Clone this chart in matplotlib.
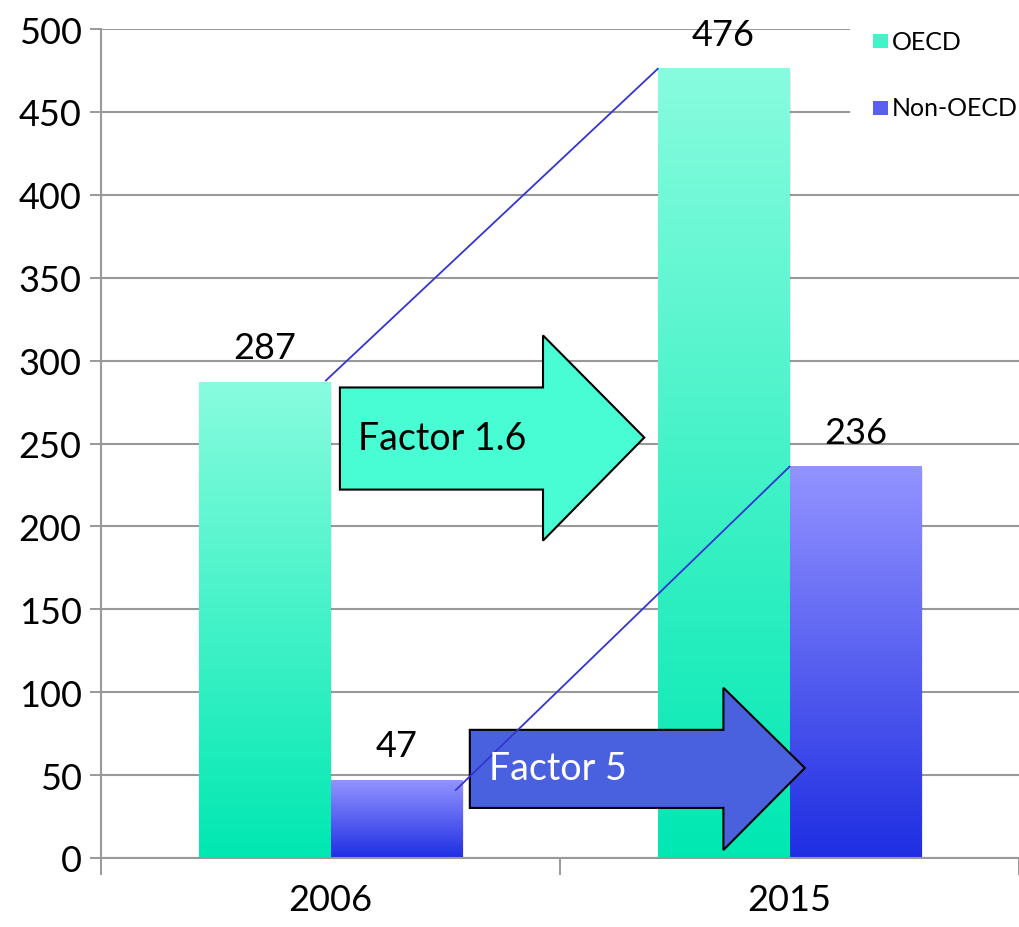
import numpy as np
import matplotlib.pyplot as plt
from matplotlib.patches import Polygon, Rectangle
from matplotlib.colors import LinearSegmentedColormap

plt.rcParams['font.family'] = ['Lato', 'DejaVu Sans']

years = ['2006', '2015']
oecd = [287, 476]
non_oecd = [47, 236]
series_names = ['OECD', 'Non-OECD']

oecd_cmap = LinearSegmentedColormap.from_list('oecd', ['#00E8B2', '#88FCDE'])
non_cmap = LinearSegmentedColormap.from_list('non', ['#1E2EE2', '#9393FF'])

fig = plt.figure(figsize=(10.19, 9.28), dpi=100)
ax = fig.add_axes([101 / 1019, 69 / 928, 918 / 1019, 829 / 928])

x = np.arange(len(years))
w = 0.287


def gradient_bars(xs, vals, cmap):
    bars = ax.bar(xs, vals, w, color='none', edgecolor='none', zorder=2)
    grad = np.linspace(0, 1, 256).reshape(-1, 1)
    for b in bars:
        x0, y0 = b.get_x(), b.get_y()
        h = b.get_height()
        # faint shadow
        ax.add_patch(Rectangle((x0 + 0.004, y0), b.get_width(), h - 1.5,
                               facecolor='#000000', alpha=0.08, zorder=1.5, lw=0))
        ax.imshow(grad, cmap=cmap, origin='lower', aspect='auto',
                  extent=(x0, x0 + b.get_width(), y0, y0 + h), zorder=2)
    return bars


b1 = gradient_bars(x - w / 2, oecd, oecd_cmap)
b2 = gradient_bars(x + w / 2, non_oecd, non_cmap)

for bars, vals in [(b1, oecd), (b2, non_oecd)]:
    for b, v in zip(bars, vals):
        ax.annotate(str(v), (b.get_x() + b.get_width() / 2, v), xytext=(0, 13),
                    textcoords='offset points', ha='center', va='bottom',
                    fontsize=26, zorder=5)

# connecting lines
ax.plot([-0.01, 1 - w], [288, oecd[1]], color='#3434D2', lw=1.3, zorder=4)
ax.plot([0.273, 1.0], [41, non_oecd[1]], color='#3434D2', lw=1.3, zorder=4)

# block arrows
arrow1 = [(0.0205, 283.8), (0.463, 283.8), (0.463, 315.2), (0.6836, 253.6),
          (0.463, 191.4), (0.463, 222.2), (0.0205, 222.2)]
ax.add_patch(Polygon(arrow1, closed=True, facecolor='#48FDD3', edgecolor='black',
                     lw=1.5, zorder=3))
ax.text(0.06, 253.6, 'Factor 1.6', fontsize=27, va='center', ha='left', zorder=4)

arrow2 = [(0.3035, 77.3), (0.856, 77.3), (0.856, 102.7), (1.0335, 54.3),
          (0.856, 4.8), (0.856, 30.2), (0.3035, 30.2)]
ax.add_patch(Polygon(arrow2, closed=True, facecolor='#4A61DF', edgecolor='black',
                     lw=1.5, zorder=3))
ax.text(0.345, 54.3, 'Factor 5', fontsize=27, va='center', ha='left',
        color='white', zorder=4)

ax.set_ylim(0, 500)
ax.set_xlim(-0.5, -0.5 + 918 / 462)
ax.set_yticks(np.arange(0, 501, 50))
ax.tick_params(axis='y', labelsize=26, length=8, width=1.2, color='#888888', pad=6)
ax.set_xticks([-0.5, 0.5, 1.5])
ax.set_xticklabels([])
ax.set_xticks(x, minor=True)
ax.set_xticklabels(years, minor=True, fontsize=26)
ax.tick_params(axis='x', which='major', length=12, width=1.2, color='#888888')
ax.tick_params(axis='x', which='minor', length=0, pad=18)
ax.grid(axis='y', color='#999999', lw=1.5, zorder=0)
ax.set_axisbelow(True)
for s in ['top', 'right']:
    ax.spines[s].set_visible(False)
for s in ['left', 'bottom']:
    ax.spines[s].set_color('#999999')
    ax.spines[s].set_linewidth(1.5)

# legend
fig.patches.append(Rectangle((850 / 1019, 1 - 128 / 928), 169 / 1019, 108 / 928,
                             transform=fig.transFigure, facecolor='white',
                             edgecolor='none', zorder=6))
for i, (name, col) in enumerate(zip(series_names, ['#3FF5C8', '#5A5FF0'])):
    ycen = 1 - (42 + 67 * i) / 928
    fig.patches.append(Rectangle((873 / 1019, ycen - 7 / 928), 15 / 1019, 14 / 928,
                                 transform=fig.transFigure, facecolor=col,
                                 edgecolor='none', zorder=7))
    fig.text(892 / 1019, ycen, name, fontsize=18, va='center', ha='left', zorder=8)

fig.savefig('out.png', dpi=100)
